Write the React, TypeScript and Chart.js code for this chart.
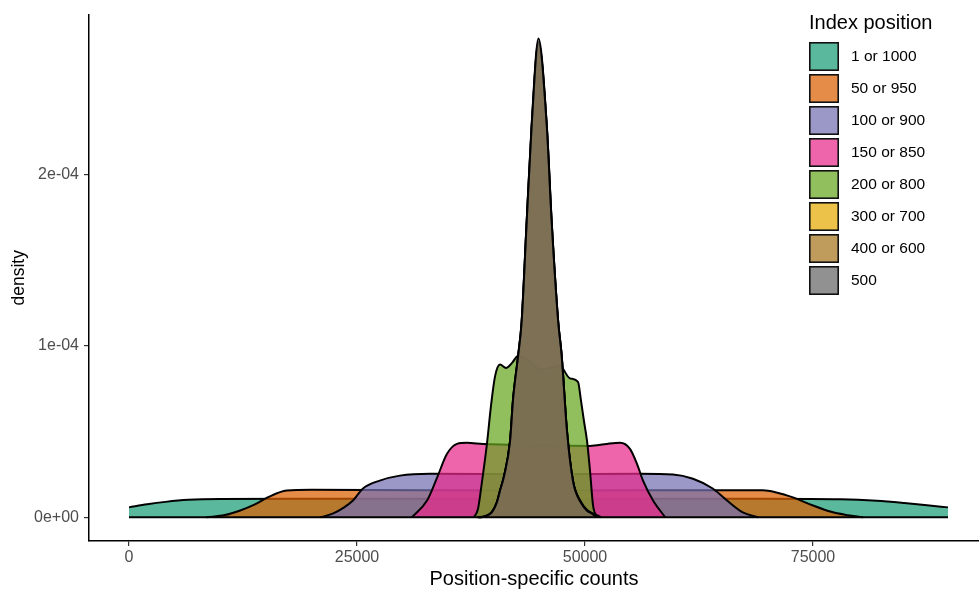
import { useEffect, useRef } from "react";
import { Chart, registerables } from "chart.js";

Chart.register(...registerables);

const legendTitle = "Index position";
const xTitle = "Position-specific counts";
const yTitle = "density";

const seriesNames = ["1 or 1000", "50 or 950", "100 or 900", "150 or 850", "200 or 800", "300 or 700", "400 or 600", "500"];
const seriesColors = ["#1B9E77", "#D95F02", "#7570B3", "#E7298A", "#66A61E", "#E6AB02", "#A6761D", "#666666"];

const xTickValues = [0, 25000, 50000, 75000];
const xTickLabels = ["0", "25000", "50000", "75000"];
const yTickValues = [0, 1e-4, 2e-4];
const yTickLabels = ["0e+00", "1e-04", "2e-04"];

// 1 or 1000
const tealX = [0, 2000, 4000, 6500, 10000, 20000, 45000, 70000, 78000, 82000, 85000, 87500, 89800];
const tealY = [5.8e-6, 7.6e-6, 9.0e-6, 1.02e-5, 1.07e-5, 1.08e-5, 1.08e-5, 1.08e-5, 1.05e-5, 9.6e-6, 8.3e-6, 7.0e-6, 5.8e-6];
// 50 or 950
const orangeX = [8500, 10500, 12200, 13800, 15200, 17300, 20000, 45000, 69500, 71000, 72800, 75000, 77000, 78500, 80500];
const orangeY = [0, 1.3e-6, 4e-6, 7.5e-6, 1.16e-5, 1.56e-5, 1.6e-5, 1.57e-5, 1.58e-5, 1.45e-5, 1.16e-5, 6.9e-6, 3.2e-6, 1.5e-6, 0];
// 100 or 900
const purpleX = [21000, 22400, 23500, 24560, 25660, 27500, 29700, 33000, 45000, 56000, 59650, 61840, 64000, 65570, 67300, 69000];
const purpleY = [0, 2.3e-6, 5.5e-6, 9.8e-6, 1.68e-5, 2.14e-5, 2.43e-5, 2.54e-5, 2.5e-5, 2.54e-5, 2.5e-5, 2.25e-5, 1.68e-5, 9.8e-6, 2.9e-6, 0];
// 150 or 850
const pinkX = [31000, 32680, 33770, 34870, 35960, 37060, 38820, 45000, 50550, 52400, 53840, 54930, 55700, 56360, 57460, 58800];
const pinkY = [0, 9.8e-6, 2.3e-5, 3.7e-5, 4.28e-5, 4.34e-5, 4.28e-5, 4.2e-5, 4.16e-5, 4.28e-5, 4.34e-5, 3.99e-5, 3.12e-5, 2.14e-5, 9.8e-6, 0];
// 200 or 800
const greenX = [37830, 38270, 38710, 39250, 39690, 40130, 40680, 41340, 42000, 42650, 43970, 45070, 46160, 47260, 48350, 49230, 49560, 49890, 50220, 50550, 50880, 51320];
const greenY = [0, 5e-6, 2.1e-5, 4.3e-5, 6.5e-5, 8.2e-5, 8.9e-5, 8.7e-5, 9.0e-5, 9.4e-5, 9.1e-5, 8.6e-5, 8.7e-5, 8.8e-5, 8.1e-5, 7.9e-5, 6.8e-5, 5.6e-5, 4.45e-5, 2.7e-5, 7e-6, 0];
// 300 or 700
const yellowX = [38200, 39000, 39800, 40350, 40680, 41120, 41780, 42110, 42680, 43050, 43600, 44150, 44900, 45800, 46350, 47060, 47430, 48030, 48690, 49500, 50200, 50800, 51300, 51800];
const yellowY = [0, 6e-7, 3.2e-6, 9e-6, 1.55e-5, 2.4e-5, 4.4e-5, 6.8e-5, 9.4e-5, 1.13e-4, 1.71e-4, 2.27e-4, 2.76e-4, 2.28e-4, 1.71e-4, 1.14e-4, 9.5e-5, 5.0e-5, 2.1e-5, 9.5e-6, 4.5e-6, 2.5e-6, 1.2e-6, 0];
// 400 or 600
const brownX = [38300, 39000, 39800, 40350, 40680, 41120, 41780, 42110, 42680, 43050, 43600, 44150, 44900, 45800, 46350, 47060, 47430, 48030, 48690, 49500, 50200, 50800, 51300];
const brownY = [0, 5e-7, 3e-6, 9e-6, 1.56e-5, 2.4e-5, 4.45e-5, 6.9e-5, 9.5e-5, 1.14e-4, 1.72e-4, 2.28e-4, 2.77e-4, 2.29e-4, 1.72e-4, 1.14e-4, 9.5e-5, 5.0e-5, 2.1e-5, 9e-6, 4e-6, 2e-6, 0];
// 500
const grayX = [38300, 39000, 39800, 40350, 40680, 41120, 41780, 42110, 42680, 43050, 43600, 44150, 44900, 45800, 46350, 47060, 47430, 48030, 48690, 49500, 50200, 50800, 51300];
const grayY = [0, 5e-7, 3e-6, 9e-6, 1.56e-5, 2.4e-5, 4.45e-5, 6.9e-5, 9.5e-5, 1.14e-4, 1.72e-4, 2.29e-4, 2.79e-4, 2.29e-4, 1.72e-4, 1.14e-4, 9.5e-5, 5.0e-5, 2.1e-5, 9e-6, 4e-6, 2e-6, 0];

const seriesX = [tealX, orangeX, purpleX, pinkX, greenX, yellowX, brownX, grayX];
const seriesY = [tealY, orangeY, purpleY, pinkY, greenY, yellowY, brownY, grayY];

const FILL_ALPHA = 0.72;
const LINE_W = 2;
const FONT = '"Liberation Sans", Arial, Helvetica, sans-serif';

function hexToRgba(hex: string, a: number) {
  const n = parseInt(hex.slice(1), 16);
  return `rgba(${(n >> 16) & 255},${(n >> 8) & 255},${n & 255},${a})`;
}

const legendPlugin = {
  id: "ggLegend",
  afterDraw(chart: any) {
    const ctx = chart.ctx as CanvasRenderingContext2D;
    ctx.save();
    ctx.fillStyle = "#000";
    ctx.font = `20px ${FONT}`;
    ctx.textAlign = "left";
    ctx.textBaseline = "alphabetic";
    ctx.fillText(legendTitle, 809, 29);
    seriesNames.forEach((name, i) => {
      const top = 42 + i * 32;
      ctx.fillStyle = "#ffffff";
      ctx.fillRect(809, top, 30, 29);
      ctx.fillStyle = hexToRgba(seriesColors[i], FILL_ALPHA);
      ctx.fillRect(809, top, 30, 29);
      ctx.strokeStyle = "#111";
      ctx.lineWidth = 1.6;
      ctx.strokeRect(809.8, top + 0.8, 28.4, 27.4);
      ctx.fillStyle = "#000";
      ctx.font = `15.5px ${FONT}`;
      ctx.textBaseline = "middle";
      ctx.fillText(name, 851, top + 15);
    });
    ctx.restore();
  },
};

export default function App() {
  const ref = useRef<HTMLCanvasElement | null>(null);
  useEffect(() => {
    document.body.style.margin = "0";
    if (!ref.current) return;
    const datasets: any[] = seriesNames.map((name, i) => ({
      label: name,
      data: seriesX[i].map((x, j) => ({ x, y: seriesY[i][j] })),
      borderColor: "#000",
      borderWidth: LINE_W,
      backgroundColor: hexToRgba(seriesColors[i], FILL_ALPHA),
      fill: "origin",
      pointRadius: 0,
      cubicInterpolationMode: "monotone",
      order: seriesNames.length - i + 1,
    }));
    datasets.push({
      label: "baseline",
      data: [
        { x: tealX[0], y: 0 },
        { x: tealX[tealX.length - 1], y: 0 },
      ],
      borderColor: "#000",
      borderWidth: LINE_W,
      fill: false,
      pointRadius: 0,
      order: 0,
    });
    const chart = new Chart(ref.current, {
      type: "line",
      data: { datasets },
      plugins: [legendPlugin],
      options: {
        animation: false,
        responsive: false,
        maintainAspectRatio: false,
        layout: { padding: { top: 10, left: 0, right: 0, bottom: 0 } },
        plugins: { legend: { display: false }, tooltip: { enabled: false } },
        scales: {
          x: {
            type: "linear",
            min: -4386,
            max: 93200,
            afterBuildTicks: (s: any) => {
              s.ticks = xTickValues.map((v) => ({ value: v }));
            },
            afterFit: (s: any) => {
              s.height = 48;
            },
            ticks: {
              autoSkip: false,
              maxRotation: 0,
              padding: 2,
              color: "#4D4D4D",
              font: { family: FONT, size: 16 },
              callback: (v: any) => xTickLabels[xTickValues.indexOf(Number(v))] ?? "",
            },
            grid: { display: true, drawOnChartArea: false, drawTicks: true, tickLength: 5, color: "#333", lineWidth: 1.2 },
            border: { display: true, color: "#000", width: 1.5 },
            title: {
              display: true,
              text: xTitle,
              color: "#000",
              font: { family: FONT, size: 20, lineHeight: 1 },
              padding: { top: 0, bottom: 0 },
            },
          },
          y: {
            type: "linear",
            min: -1.38e-5,
            max: 2.93e-4,
            afterBuildTicks: (s: any) => {
              s.ticks = yTickValues.map((v) => ({ value: v }));
            },
            afterFit: (s: any) => {
              s.width = 89;
            },
            ticks: {
              autoSkip: false,
              padding: 5,
              color: "#4D4D4D",
              font: { family: FONT, size: 16 },
              callback: (v: any) => {
                const k = yTickValues.findIndex((t) => Math.abs(t - Number(v)) < 1e-9);
                return k >= 0 ? yTickLabels[k] : "";
              },
            },
            grid: { display: true, drawOnChartArea: false, drawTicks: true, tickLength: 5, color: "#333", lineWidth: 1.2 },
            border: { display: true, color: "#000", width: 1.5 },
            title: {
              display: true,
              text: yTitle,
              color: "#000",
              font: { family: FONT, size: 17.5, lineHeight: 1 },
              padding: { top: 10, bottom: 0 },
            },
          },
        },
      },
    });
    return () => chart.destroy();
  }, []);
  return (
    <div style={{ position: "fixed", left: 0, top: 0, width: 979, height: 589, background: "#fff" }}>
      <canvas ref={ref} width={979} height={589} style={{ display: "block" }} />
    </div>
  );
}
